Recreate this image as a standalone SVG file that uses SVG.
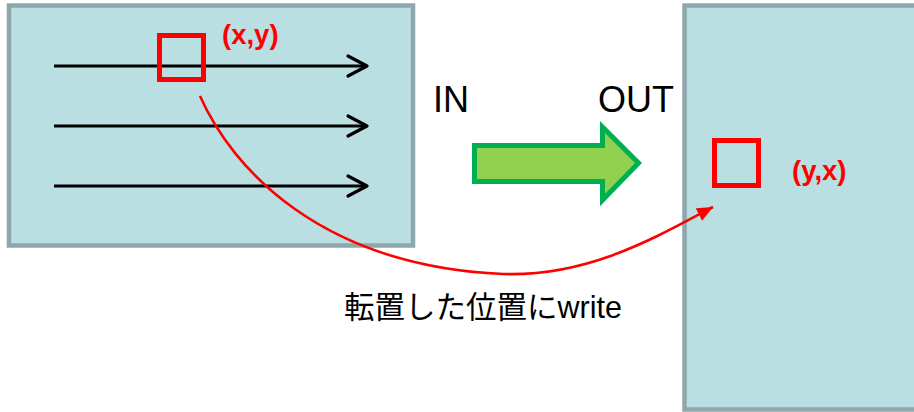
<svg xmlns="http://www.w3.org/2000/svg" width="914" height="412" viewBox="0 0 914 412">
<defs>
<style>
.box{fill:#b9dfe2;stroke:#8ea7aa;stroke-width:4.5}
.cell{fill:none;stroke:#ff0000;stroke-width:5}
.scan{stroke:#000;stroke-width:3.2;fill:none}
.chev{stroke:#000;stroke-width:3.2;fill:none;stroke-linecap:round;stroke-linejoin:round}
.lbl{font-family:"Liberation Sans",Arial,sans-serif;font-size:36px;fill:#000}
.coord{font-family:"Liberation Sans",Arial,sans-serif;font-size:27.5px;font-weight:bold;fill:#ff0000}
.jp{font-family:"Liberation Sans","Noto Sans CJK JP",sans-serif;font-size:30.5px;fill:#000}
</style>
<marker id="redHead" markerUnits="userSpaceOnUse" markerWidth="18" markerHeight="16" refX="16" refY="7" orient="auto">
<path d="M0,0 L16,7 L0,14 z" fill="#ff0000"/>
</marker>
</defs>
<g id="input">
<rect class="box" x="9" y="5.5" width="404" height="240"/>
<line class="scan" x1="54" y1="66" x2="366" y2="66"/>
<polyline class="chev" points="348,56 367,66 348,76"/>
<line class="scan" x1="54" y1="126" x2="366" y2="126"/>
<polyline class="chev" points="348,116 367,126 348,136"/>
<line class="scan" x1="54" y1="186" x2="366" y2="186"/>
<polyline class="chev" points="348,176 367,186 348,196"/>
<rect class="cell" x="159.5" y="35.5" width="44" height="44"/>
<text class="coord" x="222" y="44">(x,y)</text>
</g>
<g id="output">
<rect class="box" x="684.5" y="5.5" width="240" height="404"/>
<rect class="cell" x="714.5" y="140.5" width="44" height="45"/>
<text class="coord" x="792" y="180">(y,x)</text>
</g>
<g id="labels">
<text class="lbl" x="433" y="112">IN</text>
<text class="lbl" x="598" y="112">OUT</text>
</g>
<g id="bigArrow">
<polygon points="474.5,145.5 602.5,145.5 602.5,127 638.5,163 602.5,200 602.5,181.5 474.5,181.5" fill="#92d050" stroke="#00b050" stroke-width="5"/>
</g>
<g id="connectors">
<path d="M200,96 C232,168 320,266 503,274 C590,277 660,235 713,207" fill="none" stroke="#ff0000" stroke-width="2.6" marker-end="url(#redHead)"/>
</g>
<text class="jp" x="344" y="318">転置した位置にwrite</text>
</svg>
